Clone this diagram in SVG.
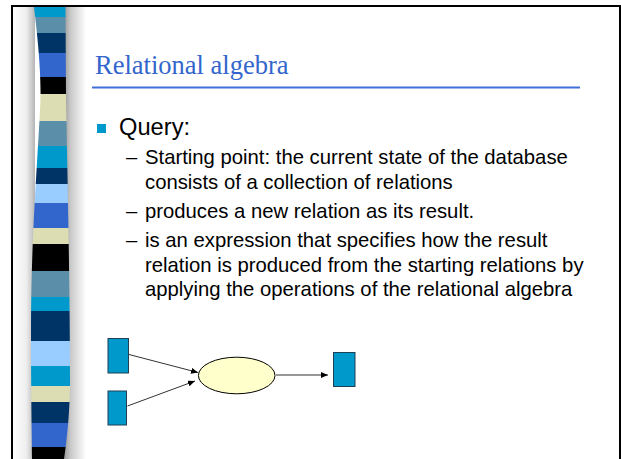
<svg xmlns="http://www.w3.org/2000/svg" width="621" height="459" viewBox="0 0 621 459">
  <style>
    .title { font-family: "Liberation Serif", "Times New Roman", serif; font-size: 26.5px; fill: #3366CC; }
    .l1 { font-family: "Liberation Sans", Arial, sans-serif; font-size: 23.7px; fill: #000; }
    .l2 { font-family: "Liberation Sans", Arial, sans-serif; font-size: 20.3px; fill: #000; }
    .rel { fill: #0099CC; stroke: #1E3F55; stroke-width: 1; }
    .op { fill: #FFFFCC; stroke: #000; stroke-width: 1; }
    .conn { stroke: #333; stroke-width: 1; fill: none; marker-end: url(#arr); }
  </style>
  <defs>
    <marker id="arr" markerUnits="userSpaceOnUse" markerWidth="8" markerHeight="6" refX="7" refY="3" orient="auto">
      <path d="M0,0 L7,3 L0,6 Z" fill="#000"/>
    </marker>
    <linearGradient id="shR" x1="0" y1="0" x2="1" y2="0">
      <stop offset="0" stop-color="#8a8a8a"/>
      <stop offset="0.35" stop-color="#c8c8c8"/>
      <stop offset="1" stop-color="#ffffff"/>
    </linearGradient>
    <linearGradient id="shL" x1="0" y1="0" x2="1" y2="0">
      <stop offset="0" stop-color="#ffffff"/>
      <stop offset="0.6" stop-color="#eeeeee"/>
      <stop offset="1" stop-color="#b5b5b5"/>
    </linearGradient>
    <clipPath id="stripe">
      <path d="M34,7 C38,40 42,80 40,110 C37,170 31,240 31,330 C31,400 32,440 32,459 L64,459 C67,440 70,410 70,380 C70,300 68,200 66,100 L65.5,7 Z"/>
    </clipPath>
  </defs>

  <rect x="0" y="0" width="621" height="459" fill="#ffffff"/>

  <!-- decorative stripe with shading -->
  <g id="stripe-bar">
    <rect x="13" y="7" width="22" height="452" fill="url(#shL)"/>
    <rect x="62" y="7" width="24" height="452" fill="url(#shR)"/>
    <g clip-path="url(#stripe)">
      <rect x="25" y="7" width="50" height="10" fill="#0099CC"/>
      <rect x="25" y="17" width="50" height="16" fill="#5B8FA9"/>
      <rect x="25" y="33" width="50" height="20" fill="#003366"/>
      <rect x="25" y="53" width="50" height="24" fill="#3366CC"/>
      <rect x="25" y="77" width="50" height="17" fill="#000000"/>
      <rect x="25" y="94" width="50" height="27" fill="#DDDDB4"/>
      <rect x="25" y="121" width="50" height="25" fill="#5B8FA9"/>
      <rect x="25" y="146" width="50" height="22" fill="#0099CC"/>
      <rect x="25" y="168" width="50" height="16" fill="#003366"/>
      <rect x="25" y="184" width="50" height="19" fill="#99CCFF"/>
      <rect x="25" y="203" width="50" height="25" fill="#3366CC"/>
      <rect x="25" y="228" width="50" height="16" fill="#DDDDB4"/>
      <rect x="25" y="244" width="50" height="27" fill="#000000"/>
      <rect x="25" y="271" width="50" height="26" fill="#5B8FA9"/>
      <rect x="25" y="297" width="50" height="14" fill="#0099CC"/>
      <rect x="25" y="311" width="50" height="30" fill="#003366"/>
      <rect x="25" y="341" width="50" height="25" fill="#99CCFF"/>
      <rect x="25" y="366" width="50" height="20" fill="#0099CC"/>
      <rect x="25" y="386" width="50" height="16" fill="#DDDDB4"/>
      <rect x="25" y="402" width="50" height="21" fill="#003366"/>
      <rect x="25" y="423" width="50" height="24" fill="#3366CC"/>
      <rect x="25" y="447" width="50" height="12" fill="#000000"/>
    </g>
  </g>

  <!-- slide frame -->
  <path d="M12,460 L12,6 L620,6 L620,460" fill="none" stroke="#000" stroke-width="2"/>

  <!-- title -->
  <g id="title">
    <text class="title" x="95" y="74">Relational algebra</text>
    <line x1="92" y1="87.5" x2="580" y2="87.5" stroke="#3F70D8" stroke-width="2"/>
  </g>

  <!-- bullet text -->
  <g id="body">
    <rect x="97" y="124" width="9" height="9" fill="#0099CC"/>
    <text class="l1" x="119" y="135">Query:</text>
    <text class="l2" x="126" y="164">–</text>
    <text class="l2" x="145" y="164">Starting point: the current state of the database</text>
    <text class="l2" x="145" y="189">consists of a collection of relations</text>
    <text class="l2" x="126" y="217.5">–</text>
    <text class="l2" x="145" y="217.5">produces a new relation as its result.</text>
    <text class="l2" x="126" y="246.5">–</text>
    <text class="l2" x="145" y="246.5">is an expression that specifies how the result</text>
    <text class="l2" x="145" y="271.5">relation is produced from the starting relations by</text>
    <text class="l2" x="145" y="296">applying the operations of the relational algebra</text>
  </g>

  <!-- diagram nodes -->
  <g id="input1"><rect class="rel" x="108" y="338.5" width="20.5" height="34.5"/></g>
  <g id="input2"><rect class="rel" x="108" y="391" width="18.5" height="34"/></g>
  <g id="operation"><ellipse class="op" cx="236.7" cy="375.5" rx="38.3" ry="18.3"/></g>
  <g id="result"><rect class="rel" x="333.5" y="352.5" width="21.5" height="34"/></g>

  <!-- connectors -->
  <g id="connectors">
    <line class="conn" x1="129" y1="354.5" x2="198" y2="372.5"/>
    <line class="conn" x1="127.5" y1="406" x2="195" y2="381"/>
    <line class="conn" x1="276" y1="375" x2="328" y2="375"/>
  </g>
</svg>
